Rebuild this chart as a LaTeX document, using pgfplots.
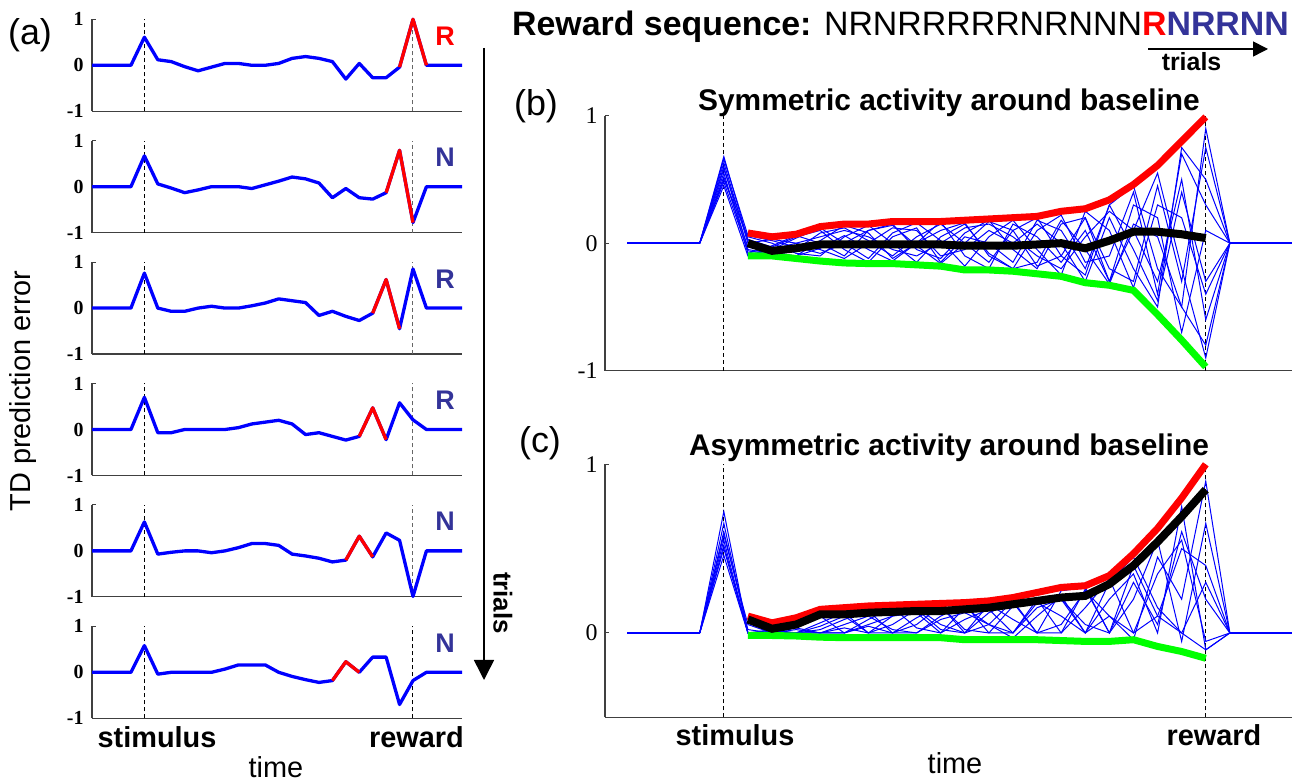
\documentclass[border=0pt]{standalone}
\usepackage{pgfplots}
\pgfplotsset{compat=1.18}
\usepackage{fontspec}
\setmainfont{Liberation Sans}
\newfontfamily\serif{Liberation Serif}
\usetikzlibrary{arrows.meta}
\definecolor{nblue}{RGB}{51,51,153}
\newcommand\fs[1]{\fontsize{#1}{#1}\selectfont}

\tikzset{dl/.style={black, line width=1bp, dash pattern=on 4bp off 3bp}}
\pgfplotsset{
  base/.style={scale only axis, anchor=south west, clip=false, no markers,
    axis x line*=bottom, axis y line*=left, axis line style={-, line width=1.2bp, black!75},
    xtick=\empty, ytick={-1,0,1}, tick align=inside, major tick length=4bp,
    tick style={line width=1bp, black!75}},
  aax/.style={base, width=370bp, height=92bp, xmin=0.1, xmax=27.65, ymin=-1, ymax=1,
    yticklabels={\textbf{-1},\textbf{0},\textbf{1}},
    yticklabel style={font=\serif\bfseries\fs{20}, xshift=-5bp}},
  bax/.style={base, width=687bp, xmin=-0.93, xmax=27.58,
    yticklabel style={font=\serif\fs{24}, xshift=-4bp}},
  tr/.style={blue, line width=3.3bp, line join=round},
  rd/.style={red, line width=3.3bp, line join=round},
  tn/.style={blue, line width=1bp},
  bl/.style={blue, line width=1.6bp},
}

\begin{document}
\begin{tikzpicture}[x=1bp,y=1bp]
\useasboundingbox (0,0) rectangle (1307,782);

% ---------- panel (a): six single trials ----------
\begin{axis}[aax, at={(92bp,670.7bp)}]
\draw[dl] (axis cs:4,-1) -- (axis cs:4,1);
\draw[dl, black!60] (axis cs:24,-1) -- (axis cs:24,1);
\addplot[tr] coordinates {(0.1,0)(3,0)(4,0.61)(5,0.12)(6,0.08)(7,-0.03)(8,-0.12)(9,-0.04)(10,0.04)(11,0.04)(12,0)(13,0)(14,0.04)(15,0.15)(16,0.19)(17,0.15)(18,0.08)(19,-0.3)(20,0.04)(21,-0.27)(22,-0.27)(23,-0.04)(24,1.0)(25,0)(27.65,0)};
\addplot[rd] coordinates {(23,-0.04)(24,1.0)(25,0)};
\end{axis}

\begin{axis}[aax, at={(92bp,549.3bp)}]
\draw[dl] (axis cs:4,-1) -- (axis cs:4,1);
\draw[dl, black!60] (axis cs:24,-1) -- (axis cs:24,1);
\addplot[tr] coordinates {(0.1,0)(3,0)(4,0.67)(5,0.06)(6,-0.03)(7,-0.13)(8,-0.07)(9,0)(10,0)(11,0)(12,-0.04)(13,0.04)(14,0.12)(15,0.21)(16,0.17)(17,0.08)(18,-0.24)(19,-0.04)(20,-0.24)(21,-0.27)(22,-0.13)(23,0.79)(24,-0.78)(25,0)(27.65,0)};
\addplot[rd] coordinates {(22,-0.13)(23,0.79)(24,-0.78)};
\end{axis}

\begin{axis}[aax, at={(92bp,427.9bp)}]
\draw[dl] (axis cs:4,-1) -- (axis cs:4,1);
\draw[dl, black!60] (axis cs:24,-1) -- (axis cs:24,1);
\addplot[tr] coordinates {(0.1,0)(3,0)(4,0.76)(5,0)(6,-0.07)(7,-0.07)(8,0)(9,0.04)(10,0)(11,0)(12,0.05)(13,0.11)(14,0.2)(15,0.16)(16,0.12)(17,-0.16)(18,-0.07)(19,-0.18)(20,-0.27)(21,-0.11)(22,0.62)(23,-0.45)(24,0.85)(25,0)(27.65,0)};
\addplot[rd] coordinates {(21,-0.11)(22,0.62)(23,-0.45)};
\end{axis}

\begin{axis}[aax, at={(92bp,306.5bp)}]
\draw[dl] (axis cs:4,-1) -- (axis cs:4,1);
\draw[dl, black!60] (axis cs:24,-1) -- (axis cs:24,1);
\addplot[tr] coordinates {(0.1,0)(3,0)(4,0.7)(5,-0.07)(6,-0.07)(7,0)(8,0)(9,0)(10,0)(11,0.04)(12,0.12)(13,0.16)(14,0.2)(15,0.12)(16,-0.11)(17,-0.07)(18,-0.15)(19,-0.23)(20,-0.15)(21,0.47)(22,-0.22)(23,0.58)(24,0.21)(25,0)(27.65,0)};
\addplot[rd] coordinates {(20,-0.15)(21,0.47)(22,-0.22)};
\end{axis}

\begin{axis}[aax, at={(92bp,185.1bp)}]
\draw[dl] (axis cs:4,-1) -- (axis cs:4,1);
\draw[dl, black!60] (axis cs:24,-1) -- (axis cs:24,1);
\addplot[tr] coordinates {(0.1,0)(3,0)(4,0.63)(5,-0.07)(6,-0.03)(7,0)(8,0)(9,-0.04)(10,0)(11,0.07)(12,0.16)(13,0.16)(14,0.12)(15,-0.07)(16,-0.11)(17,-0.16)(18,-0.24)(19,-0.2)(20,0.32)(21,-0.13)(22,0.39)(23,0.23)(24,-0.99)(25,0)(27.65,0)};
\addplot[rd] coordinates {(19,-0.2)(20,0.32)(21,-0.13)};
\end{axis}

\begin{axis}[aax, at={(92bp,63.7bp)}]
\draw[dl] (axis cs:4,-1) -- (axis cs:4,1);
\draw[dl] (axis cs:24,-1) -- (axis cs:24,1);
\addplot[tr] coordinates {(0.1,0)(3,0)(4,0.58)(5,-0.04)(6,0)(7,0)(8,0)(9,0)(10,0.07)(11,0.16)(12,0.16)(13,0.16)(14,0)(15,-0.09)(16,-0.16)(17,-0.22)(18,-0.18)(19,0.23)(20,0)(21,0.33)(22,0.33)(23,-0.7)(24,-0.18)(25,0)(27.65,0)};
\addplot[rd] coordinates {(18,-0.18)(19,0.23)(20,0)};
\end{axis}

% ---------- panel (b): symmetric ----------
\begin{axis}[bax, height=255bp, ymin=-1, ymax=1, yticklabels={-1,0,1}, at={(605bp,411.3bp)}]
\draw[dl] (axis cs:4,-1) -- (axis cs:4,1);
\draw[dl] (axis cs:24,-1) -- (axis cs:24,1);
\addplot[bl] coordinates {(0,0)(3,0)};
\addplot[bl] coordinates {(25,0)(27.58,0)};
\addplot[tn] coordinates {(3,0)(4,0.68)(5,0.02)(6,-0.05)(7,0)(8,0.05)(9,0.1)(10,0.05)(11,-0.05)(12,-0.1)(13,0)(14,0.12)(15,0.15)(16,0.05)(17,-0.1)(18,-0.2)(19,0.05)(20,0.25)(21,0.1)(22,-0.3)(23,0.5)(24,-0.6)(25,0)};
\addplot[tn] coordinates {(3,0)(4,0.6)(5,-0.05)(6,-0.08)(7,-0.05)(8,0.08)(9,0.12)(10,0.02)(11,-0.1)(12,0.05)(13,0.15)(14,0)(15,-0.15)(16,0.1)(17,0.2)(18,-0.1)(19,-0.25)(20,0.3)(21,0.45)(22,-0.2)(23,-0.5)(24,0.9)(25,0)};
\addplot[tn] coordinates {(3,0)(4,0.55)(5,-0.08)(6,-0.02)(7,0.06)(8,0)(9,-0.1)(10,0.1)(11,0.15)(12,-0.05)(13,-0.12)(14,0.08)(15,0.18)(16,-0.05)(17,-0.2)(18,0.15)(19,0.2)(20,-0.3)(21,0.1)(22,0.55)(23,-0.2)(24,-0.9)(25,0)};
\addplot[tn] coordinates {(3,0)(4,0.5)(5,0.05)(6,0)(7,-0.08)(8,-0.1)(9,0.05)(10,0.14)(11,0)(12,-0.15)(13,0.05)(14,0.15)(15,-0.08)(16,-0.2)(17,0.1)(18,0.22)(19,-0.15)(20,-0.1)(21,0.4)(22,-0.4)(23,0.7)(24,0.3)(25,0)};
\addplot[tn] coordinates {(3,0)(4,0.45)(5,-0.1)(6,-0.05)(7,0.04)(8,0.12)(9,0)(10,-0.12)(11,0.08)(12,0.16)(13,0.02)(14,-0.18)(15,0.05)(16,0.18)(17,-0.05)(18,-0.25)(19,0.25)(20,0.1)(21,-0.35)(22,0.3)(23,0.2)(24,-0.4)(25,0)};
\addplot[tn] coordinates {(3,0)(4,0.63)(5,0)(6,0.03)(7,0)(8,-0.05)(9,-0.12)(10,0)(11,0.12)(12,0.1)(13,-0.1)(14,-0.05)(15,0.1)(16,0)(17,0.15)(18,0)(19,-0.3)(20,0.2)(21,-0.2)(22,-0.5)(23,0.75)(24,0.5)(25,0)};
\addplot[tn] coordinates {(3,0)(4,0.52)(5,-0.03)(6,-0.07)(7,-0.1)(8,0.02)(9,0.14)(10,0.08)(11,-0.12)(12,0)(13,0.17)(14,-0.1)(15,-0.2)(16,0.15)(17,0.05)(18,-0.15)(19,0.1)(20,-0.3)(21,0.3)(22,0.2)(23,-0.7)(24,0.1)(25,0)};
\addplot[tn] coordinates {(3,0)(4,0.58)(5,0.03)(6,-0.03)(7,0.05)(8,0.1)(9,-0.05)(10,-0.15)(11,0.05)(12,0.12)(13,-0.15)(14,0.05)(15,0)(16,-0.15)(17,0.18)(18,0.1)(19,-0.2)(20,0.3)(21,-0.05)(22,-0.45)(23,0.4)(24,-0.3)(25,0)};
\addplot[tn] coordinates {(3,0)(4,0.66)(5,0.06)(6,0.02)(7,-0.03)(8,-0.08)(9,0)(10,0.1)(11,0.14)(12,-0.02)(13,-0.16)(14,0)(15,0.17)(16,0.1)(17,-0.18)(18,-0.1)(19,0.2)(20,-0.2)(21,-0.3)(22,0.45)(23,-0.3)(24,0.75)(25,0)};
\addplot[tn] coordinates {(3,0)(4,0.48)(5,-0.06)(6,-0.09)(7,-0.1)(8,-0.04)(9,0.06)(10,-0.05)(11,-0.14)(12,0)(13,0.1)(14,0.16)(15,-0.1)(16,-0.2)(17,-0.15)(18,0.18)(19,-0.05)(20,-0.32)(21,0.15)(22,0.05)(23,-0.5)(24,-0.8)(25,0)};
\addplot[green, line width=7bp] coordinates {(5,-0.1)(6,-0.1)(7,-0.12)(8,-0.14)(9,-0.155)(10,-0.16)(11,-0.16)(12,-0.17)(13,-0.18)(14,-0.21)(15,-0.21)(16,-0.22)(17,-0.24)(18,-0.26)(19,-0.31)(20,-0.33)(21,-0.37)(22,-0.56)(23,-0.76)(24,-0.97)};
\addplot[red, line width=7bp] coordinates {(5,0.08)(6,0.05)(7,0.07)(8,0.13)(9,0.15)(10,0.15)(11,0.17)(12,0.17)(13,0.17)(14,0.18)(15,0.19)(16,0.2)(17,0.21)(18,0.25)(19,0.27)(20,0.34)(21,0.46)(22,0.61)(23,0.8)(24,0.99)};
\addplot[black, line width=8bp] coordinates {(5,0)(6,-0.06)(7,-0.04)(8,-0.01)(9,-0.01)(10,-0.01)(11,-0.01)(12,-0.01)(13,-0.01)(14,-0.02)(15,-0.02)(16,-0.02)(17,-0.01)(18,0)(19,-0.04)(20,0.02)(21,0.09)(22,0.09)(23,0.07)(24,0.04)};
\end{axis}

% ---------- panel (c): asymmetric ----------
\begin{axis}[bax, height=253bp, ymin=-0.5, ymax=1, ytick={0,1}, yticklabels={0,1}, at={(605bp,64.7bp)}]
\draw[dl] (axis cs:4,-0.5) -- (axis cs:4,1);
\draw[dl] (axis cs:24,-0.5) -- (axis cs:24,1);
\addplot[bl] coordinates {(0,0)(3,0)};
\addplot[bl] coordinates {(25,0)(27.58,0)};
\addplot[tn] coordinates {(3,0)(4,0.72)(5,0)(6,0)(7,0.02)(8,0)(9,0.05)(10,0.1)(11,0.02)(12,0)(13,0.08)(14,0.12)(15,0.05)(16,0)(17,0.15)(18,0.2)(19,0.05)(20,0)(21,0.3)(22,0.05)(23,0.6)(24,0.2)(25,0)};
\addplot[tn] coordinates {(3,0)(4,0.6)(5,0.02)(6,0)(7,0)(8,0.06)(9,0.12)(10,0)(11,0.05)(12,0.14)(13,0.02)(14,0)(15,0.12)(16,0.18)(17,0)(18,0.05)(19,0.25)(20,0.1)(21,-0.04)(22,0.45)(23,0.2)(24,0.9)(25,0)};
\addplot[tn] coordinates {(3,0)(4,0.5)(5,0)(6,0.01)(7,0.05)(8,0.1)(9,0)(10,0.08)(11,0.15)(12,0.03)(13,0)(14,0.15)(15,0.05)(16,-0.03)(17,0.1)(18,0.22)(19,0)(20,0.2)(21,0.35)(22,0)(23,0.75)(24,-0.1)(25,0)};
\addplot[tn] coordinates {(3,0)(4,0.55)(5,0)(6,0)(7,0)(8,0.02)(9,0.08)(10,0.13)(11,0)(12,0.05)(13,0.16)(14,0.02)(15,0)(16,0.16)(17,0.2)(18,0)(19,0.15)(20,0.32)(21,0)(22,0.1)(23,0.5)(24,0.4)(25,0)};
\addplot[tn] coordinates {(3,0)(4,0.46)(5,0)(6,0)(7,0.03)(8,0)(9,0)(10,0.05)(11,0.1)(12,0.15)(13,0.05)(14,0)(15,0.17)(16,0.08)(17,0)(18,0.25)(19,0.27)(20,0)(21,0.2)(22,0.55)(23,-0.05)(24,0.65)(25,0)};
\addplot[tn] coordinates {(3,0)(4,0.65)(5,0)(6,0)(7,0)(8,0)(9,0.03)(10,0)(11,0.1)(12,0.12)(13,0)(14,0.08)(15,0.14)(16,0)(17,0.18)(18,0.1)(19,0)(20,0.3)(21,0.45)(22,0.15)(23,0)(24,-0.1)(25,0)};
\addplot[tn] coordinates {(3,0)(4,0.58)(5,0.05)(6,0)(7,0)(8,0)(9,0)(10,0.04)(11,0)(12,0.09)(13,0.16)(14,0)(15,0.05)(16,0.19)(17,0)(18,0)(19,0.26)(20,0)(21,0.4)(22,0.1)(23,0)(24,0.3)(25,0)};
\addplot[tn] coordinates {(3,0)(4,0.52)(5,0)(6,0.02)(7,0)(8,0.04)(9,0.1)(10,0)(11,0)(12,0)(13,0.1)(14,0.17)(15,0)(16,0)(17,0.2)(18,0.2)(19,0)(20,0.1)(21,0)(22,0.35)(23,0.55)(24,-0.05)(25,0)};
\addplot[green, line width=7bp] coordinates {(5,-0.015)(6,-0.015)(7,-0.018)(8,-0.025)(9,-0.028)(10,-0.028)(11,-0.028)(12,-0.028)(13,-0.028)(14,-0.04)(15,-0.04)(16,-0.04)(17,-0.04)(18,-0.045)(19,-0.05)(20,-0.05)(21,-0.04)(22,-0.08)(23,-0.11)(24,-0.15)};
\addplot[red, line width=7bp] coordinates {(5,0.1)(6,0.06)(7,0.09)(8,0.14)(9,0.15)(10,0.16)(11,0.165)(12,0.17)(13,0.175)(14,0.18)(15,0.19)(16,0.21)(17,0.24)(18,0.27)(19,0.28)(20,0.34)(21,0.47)(22,0.62)(23,0.8)(24,1.0)};
\addplot[black, line width=8bp] coordinates {(5,0.08)(6,0.025)(7,0.05)(8,0.11)(9,0.11)(10,0.12)(11,0.125)(12,0.13)(13,0.13)(14,0.14)(15,0.15)(16,0.17)(17,0.19)(18,0.21)(19,0.22)(20,0.29)(21,0.4)(22,0.54)(23,0.69)(24,0.85)};
\end{axis}

% ---------- text and arrows ----------
\node[inner sep=0] at (30,747) {\fs{36}(a)};
\node[inner sep=0, rotate=90] at (23,391) {\fs{29}TD prediction error};
\node[inner sep=0, anchor=base] at (157,35) {\fs{29}\textbf{stimulus}};
\node[inner sep=0, anchor=base] at (416.5,35) {\fs{29}\textbf{reward}};
\node[inner sep=0, anchor=base] at (276,5) {\fs{29}time};
\foreach \yy/\ll/\cc in {45.3/R/red, 166.7/N/nblue, 288.1/R/nblue, 409.5/R/nblue, 530.9/N/nblue, 652.3/N/nblue}
  \node[inner sep=0, anchor=base, text=\cc] at (445,782-\yy) {\fs{27}\textbf{\ll}};
\draw[line width=1.5bp, -{Triangle[length=20bp,width=20bp]}] (484,734) -- (484,102);
\node[inner sep=0, rotate=-90] at (503,179) {\fs{26}\textbf{trials}};

\node[inner sep=0, anchor=base west] at (512,746) {\fs{34}\textbf{Reward sequence:} NRNRRRRRNRNNN\textcolor{red}{\textbf{R}}\textcolor{nblue}{\textbf{NRRNN}}};
\draw[line width=1.5bp, -{Triangle[length=15bp,width=15bp]}] (1148,733) -- (1268,733);
\node[inner sep=0] at (1191.5,720) {\fs{25}\textbf{trials}};

\node[inner sep=0] at (536,676) {\fs{36}(b)};
\node[inner sep=0, anchor=base] at (949,671) {\fs{30}\textbf{Symmetric activity around baseline}};
\node[inner sep=0] at (540,339) {\fs{36}(c)};
\node[inner sep=0, anchor=base] at (949,326) {\fs{30}\textbf{Asymmetric activity around baseline}};
\node[inner sep=0, anchor=base] at (735,37) {\fs{29}\textbf{stimulus}};
\node[inner sep=0, anchor=base] at (1214,37) {\fs{29}\textbf{reward}};
\node[inner sep=0, anchor=base] at (955,9) {\fs{29}time};
\end{tikzpicture}
\end{document}
